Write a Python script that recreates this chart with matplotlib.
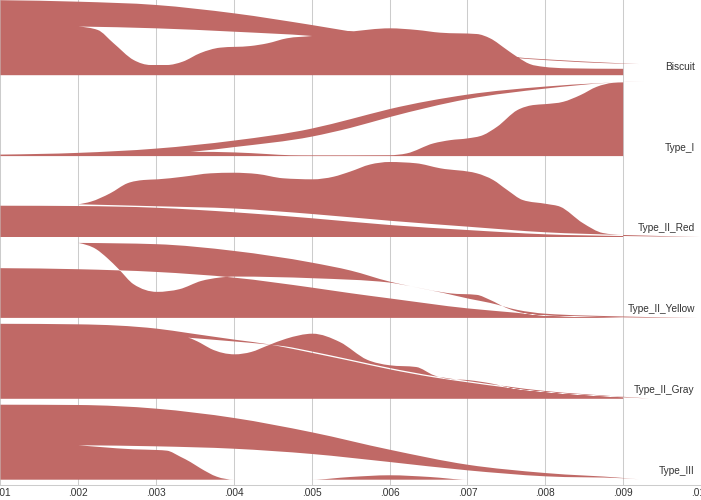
import numpy as np
import matplotlib
matplotlib.use("Agg")
import matplotlib.pyplot as plt
from matplotlib.path import Path
from matplotlib.patches import PathPatch

# ---------------- data (x in axis units, h = relative density 0..1) ----------------
categories = ["Biscuit", "Type_I", "Type_II_Red", "Type_II_Yellow", "Type_II_Gray", "Type_III"]
tick_values = [0.001, 0.002, 0.003, 0.004, 0.005, 0.006, 0.007, 0.008, 0.009, 0.010]
tick_labels = [".001", ".002", ".003", ".004", ".005", ".006", ".007", ".008", ".009", ".010"]

# Biscuit
biscuit_fwd_x = [.001, .002, .003, .004, .005, .006, .007, .0076, .0082, .0087, .0092]
biscuit_fwd_h = [1.0, .98, .936, .825, .669, .496, .336, .243, .2, .172, .149]
biscuit_back_x = [.0092, .0087, .0082, .0076, .007, .006, .005, .004, .003, .002]
biscuit_back_h = [.149, .163, .189, .232, .309, .416, .523, .58, .625, .649]
biscuit_dens_x = [.002, .00225, .00245, .00271, .00293, .00314, .00334, .00357, .00382, .00421,
                  .00443, .00468, .00501, .00549, .006, .00635, .00665, .00712, .00729, .00751,
                  .00764, .0078, .00797, .00828, .009]
biscuit_dens_h = [.649, .603, .429, .203, .136, .136, .18, .296, .367, .389,
                  .425, .492, .523, .58, .625, .603, .567, .549, .492, .336,
                  .243, .149, .113, .092, .085]

# Type_I
type1_fwd_x = [.001, .002, .003, .004, .005, .0055, .006, .007, .008, .0087, .00928]
type1_fwd_h = [.02, .043, .1, .207, .367, .493, .627, .82, .927, .973, 1.0]
type1_back_x = [.00928, .00883, .008, .007, .006, .0055, .005, .004, .00348, .003, .002]
type1_back_h = [1.0, .979, .9, .76, .52, .377, .26, .12, .06, .029, .008]
type1_dens_x = [.002, .003, .00348, .00401, .00443, .00472, .00501, .006, .00622, .00656, .00678,
                .007, .0072, .00738, .00764, .00784, .008, .00823, .00845, .00866, .00887, .009]
type1_dens_h = [.008, .037, .057, .049, .027, .012, .01, .012, .036, .169, .213,
                .236, .28, .391, .613, .68, .693, .724, .813, .924, .977, .983]

# Type_II_Red
red_fwd_x = [.001, .002, .003, .004, .005, .006, .007, .008, .009, .00999]
red_fwd_h = [.417, .413, .39, .33, .25, .16, .093, .036, .013, .001]
red_back_x = [.00999, .009, .008, .007, .006, .005, .004, .003, .002]
red_back_h = [.001, .027, .063, .138, .217, .307, .38, .41, .436]
red_dens_x = [.002, .00216, .00241, .00263, .00284, .00302, .00335, .0037, .00399, .0043,
              .00463, .00501, .00528, .00549, .00575, .006, .00634, .00665, .00712, .00733,
              .00751, .00771, .00802, .00819, .00848, .00874, .009]
red_dens_h = [.436, .471, .583, .716, .76, .769, .804, .849, .857, .84,
              .783, .769, .804, .871, .967, 1.0, .983, .916, .849, .76,
              .627, .493, .44, .404, .187, .053, .027]

# Type_II_Yellow
yellow_fwd_x = [.001, .002, .003, .004, .005, .0055, .006, .007, .00764, .008, .009, .00995]
yellow_fwd_h = [.663, .649, .613, .537, .404, .329, .26, .127, .067, .029, .007, .0]
yellow_back_x = [.00995, .009, .008, .00764, .00729, .00703, .00669, .00613, .006, .0055,
                 .005, .004, .003, .002]
yellow_back_h = [.0, .019, .056, .107, .2, .253, .333, .453, .484, .631,
                 .737, .893, .983, 1.0]
yellow_dens_x = [.002, .00223, .00237, .00252, .00271, .00301, .0033, .00358, .00381, .00401,
                 .00501, .006, .00613, .00669, .00678, .00712, .00729, .00751, .00764, .008, .009]
yellow_dens_h = [1.0, .916, .8, .649, .449, .347, .383, .493, .537, .551,
                 .529, .471, .449, .34, .327, .307, .24, .129, .084, .033, .009]

# Type_II_Gray
gray_fwd_x = [.001, .002, .00301, .00341, .00401, .00444, .00465, .00501, .00549, .006,
              .00656, .007, .008, .009, .00934]
gray_fwd_h = [1.0, .993, .935, .877, .788, .727, .687, .611, .507, .393,
              .287, .22, .091, .02, .004]
gray_back_x = [.00934, .009, .008, .007, .00656, .006, .00549, .00501, .00465, .00444,
               .00401, .00341, .003, .002]
gray_back_h = [.004, .027, .104, .237, .304, .411, .524, .629, .7, .724,
               .764, .815, .851, .917]
gray_dens_x = [.002, .003, .00341, .00357, .0037, .00401, .00422, .00444, .00467, .00501,
               .00536, .00571, .006, .00634, .00657, .00674, .00703, .00732, .0076, .008, .009]
gray_dens_h = [.917, .864, .815, .744, .668, .593, .624, .713, .801, .868,
               .757, .521, .447, .424, .313, .268, .247, .201, .135, .091, .024]

# Type_III
type3_fwd_x = [.001, .002, .003, .004, .005, .006, .007, .008, .009, .0092]
type3_fwd_h = [1.0, .996, .947, .823, .632, .4, .2, .089, .023, .005]
type3_back_x = [.0092, .009, .008, .007, .006, .005, .004, .003, .002]
type3_back_h = [.005, .019, .045, .125, .236, .343, .413, .445, .459]
type3_dens_x = [.002, .00228, .00271, .00301, .00314, .00331, .00344, .00357, .00378, .004,
                .005, .00549, .006, .00652, .007, .009]
type3_dens_h = [.459, .436, .405, .396, .387, .307, .236, .152, .04, .0,
                .0, .036, .059, .036, .0, .0]

rows = [
    (biscuit_fwd_x, biscuit_fwd_h, biscuit_back_x, biscuit_back_h, biscuit_dens_x, biscuit_dens_h),
    (type1_fwd_x, type1_fwd_h, type1_back_x, type1_back_h, type1_dens_x, type1_dens_h),
    (red_fwd_x, red_fwd_h, red_back_x, red_back_h, red_dens_x, red_dens_h),
    (yellow_fwd_x, yellow_fwd_h, yellow_back_x, yellow_back_h, yellow_dens_x, yellow_dens_h),
    (gray_fwd_x, gray_fwd_h, gray_back_x, gray_back_h, gray_dens_x, gray_dens_h),
    (type3_fwd_x, type3_fwd_h, type3_back_x, type3_back_h, type3_dens_x, type3_dens_h),
]

# ---------------- style ----------------
FILL = "#c06966"
GRID = "#cccccc"
TEXT = "#333333"
ROW_SCALE = 75.0 / 80.9


def monotone_segments(xs, ys):
    """Monotone-X cubic (as d3.curveMonotoneX); returns list of (c1, c2, end)."""
    xs = np.asarray(xs, float)
    ys = np.asarray(ys, float)
    rev = xs[-1] < xs[0]
    if rev:
        xs, ys = xs[::-1], ys[::-1]
    n = len(xs)
    h = np.diff(xs)
    s = np.diff(ys) / h
    t = np.zeros(n)
    sg = lambda v: -1.0 if v < 0 else 1.0
    for i in range(1, n - 1):
        h0, h1, s0, s1 = h[i - 1], h[i], s[i - 1], s[i]
        p = (s0 * h1 + s1 * h0) / (h0 + h1)
        t[i] = (sg(s0) + sg(s1)) * min(abs(s0), abs(s1), 0.5 * abs(p))
    if n > 2:
        t[0] = (3 * s[0] - t[1]) / 2
        t[-1] = (3 * s[-1] - t[-2]) / 2
    else:
        t[:] = s[0]
    segs = []
    for i in range(n - 1):
        dx = h[i] / 3
        c1 = (xs[i] + dx, ys[i] + dx * t[i])
        c2 = (xs[i + 1] - dx, ys[i + 1] - dx * t[i + 1])
        segs.append((c1, c2, (xs[i + 1], ys[i + 1]), (xs[i], ys[i])))
    if rev:
        segs = [(c2, c1, start, end) for (c1, c2, end, start) in segs[::-1]]
    return [(c1, c2, end) for (c1, c2, end, _s) in segs]


fig = plt.figure(figsize=(7.01, 5.0), dpi=100)
ax = fig.add_axes([0, 15 / 500, 1, 485 / 500])
ax.set_xlim(0.000994, 0.010)
ax.set_ylim(-0.0655, 5.9295)

for v in tick_values:
    ax.axvline(v, color=GRID, lw=0.75, zorder=1)

for i, (fx, fh, bx, bh, dx_, dh) in enumerate(rows):
    base = 5 - i
    verts = [(fx[0], base + fh[0] * ROW_SCALE)]
    codes = [Path.MOVETO]
    for xs, hs in ((fx, fh), (bx, bh), (dx_, dh)):
        ys = [base + v * ROW_SCALE for v in hs]
        for c1, c2, end in monotone_segments(xs, ys):
            verts += [c1, c2, end]
            codes += [Path.CURVE4] * 3
    verts += [(dx_[-1], base), (fx[0], base), (fx[0], base)]
    codes += [Path.LINETO, Path.LINETO, Path.CLOSEPOLY]
    patch = PathPatch(Path(verts, codes), facecolor=FILL, edgecolor="none", lw=0, zorder=2)
    ax.add_patch(patch)
    ax.text(0.00992, base + 0.068, categories[i], ha="right", va="baseline",
            fontsize=7.3, color=TEXT, family="Liberation Sans", zorder=3)

for sp in ("top", "left", "right"):
    ax.spines[sp].set_visible(False)
ax.spines["bottom"].set_color(GRID)
ax.spines["bottom"].set_linewidth(0.75)
ax.set_yticks([])
ax.set_xticks(tick_values)
ax.set_xticklabels(tick_labels, fontsize=7.3, color=TEXT, family="Liberation Sans")
ax.tick_params(axis="x", length=0, pad=2.2)
ax.set_facecolor("white")
fig.patch.set_facecolor("white")

fig.savefig("out.png", dpi=100)
